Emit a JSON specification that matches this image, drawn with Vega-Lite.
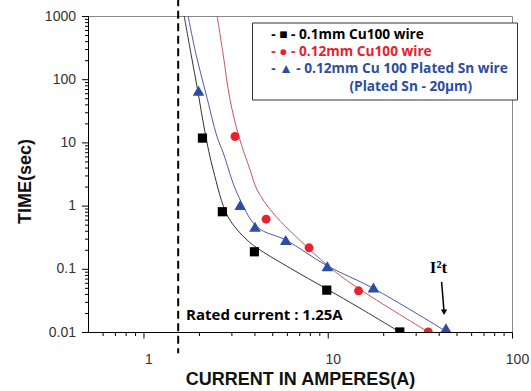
{
  "$schema": "https://vega.github.io/schema/vega-lite/v6.json",
  "width": 424,
  "height": 316,
  "autosize": {"type": "none"},
  "padding": {"left": 88, "top": 16, "right": 19, "bottom": 59},
  "background": "white",
  "config": {
    "view": {"stroke": "#888", "strokeWidth": 1},
    "axis": {
      "domainColor": "#000", "grid": false, "ticks": true, "tickColor": "#000", "tickWidth": 1, "tickOpacity": 1,
      "bandPosition": 0, "tickRound": false, "tickExtra": false,
      "labelFont": "Liberation Sans", "labelFontSize": 14, "labelColor": "#333",
      "titleFont": "Liberation Sans", "titleFontSize": 18, "titleFontWeight": "bold", "titleColor": "#111"
    }
  },
  "datasets": {
    "pts": [
      {"series": "0.1mm Cu100 wire", "I": 2.09, "t": 11.7},
      {"series": "0.1mm Cu100 wire", "I": 2.68, "t": 0.80},
      {"series": "0.1mm Cu100 wire", "I": 4.0, "t": 0.186},
      {"series": "0.1mm Cu100 wire", "I": 9.88, "t": 0.046},
      {"series": "0.1mm Cu100 wire", "I": 24.6, "t": 0.01},
      {"series": "0.12mm Cu100 wire", "I": 3.14, "t": 12.4},
      {"series": "0.12mm Cu100 wire", "I": 4.63, "t": 0.61},
      {"series": "0.12mm Cu100 wire", "I": 7.92, "t": 0.215},
      {"series": "0.12mm Cu100 wire", "I": 14.7, "t": 0.0448},
      {"series": "0.12mm Cu100 wire", "I": 35.1, "t": 0.01},
      {"series": "0.12mm Cu 100 Plated Sn wire", "I": 1.99, "t": 65.5},
      {"series": "0.12mm Cu 100 Plated Sn wire", "I": 3.35, "t": 1.02},
      {"series": "0.12mm Cu 100 Plated Sn wire", "I": 4.03, "t": 0.463},
      {"series": "0.12mm Cu 100 Plated Sn wire", "I": 5.92, "t": 0.285},
      {"series": "0.12mm Cu 100 Plated Sn wire", "I": 9.95, "t": 0.110},
      {"series": "0.12mm Cu 100 Plated Sn wire", "I": 17.7, "t": 0.0507},
      {"series": "0.12mm Cu 100 Plated Sn wire", "I": 43.8, "t": 0.0115}
    ],
    "curves": [
      {"series": "0.1mm Cu100 wire", "I": 1.663, "t": 1000},
      {"series": "0.1mm Cu100 wire", "I": 1.815, "t": 244},
      {"series": "0.1mm Cu100 wire", "I": 1.98, "t": 60.9},
      {"series": "0.1mm Cu100 wire", "I": 2.16, "t": 14.1},
      {"series": "0.1mm Cu100 wire", "I": 2.39, "t": 3.67},
      {"series": "0.1mm Cu100 wire", "I": 2.88, "t": 0.66},
      {"series": "0.1mm Cu100 wire", "I": 3.65, "t": 0.285},
      {"series": "0.1mm Cu100 wire", "I": 4.30, "t": 0.198},
      {"series": "0.1mm Cu100 wire", "I": 6.25, "t": 0.1026},
      {"series": "0.1mm Cu100 wire", "I": 9.91, "t": 0.0477},
      {"series": "0.1mm Cu100 wire", "I": 14.97, "t": 0.0238},
      {"series": "0.1mm Cu100 wire", "I": 24.6, "t": 0.01},
      {"series": "0.12mm Cu100 wire", "I": 2.51, "t": 1000},
      {"series": "0.12mm Cu100 wire", "I": 2.70, "t": 259},
      {"series": "0.12mm Cu100 wire", "I": 2.95, "t": 47.2},
      {"series": "0.12mm Cu100 wire", "I": 3.30, "t": 12.2},
      {"series": "0.12mm Cu100 wire", "I": 3.79, "t": 3.67},
      {"series": "0.12mm Cu100 wire", "I": 4.14, "t": 1.77},
      {"series": "0.12mm Cu100 wire", "I": 5.05, "t": 0.763},
      {"series": "0.12mm Cu100 wire", "I": 7.72, "t": 0.221},
      {"series": "0.12mm Cu100 wire", "I": 10.7, "t": 0.0954},
      {"series": "0.12mm Cu100 wire", "I": 14.6, "t": 0.0494},
      {"series": "0.12mm Cu100 wire", "I": 35.1, "t": 0.01},
      {"series": "0.12mm Cu 100 Plated Sn wire", "I": 1.747, "t": 1000},
      {"series": "0.12mm Cu 100 Plated Sn wire", "I": 1.93, "t": 244},
      {"series": "0.12mm Cu 100 Plated Sn wire", "I": 2.18, "t": 60.2},
      {"series": "0.12mm Cu 100 Plated Sn wire", "I": 2.51, "t": 12.2},
      {"series": "0.12mm Cu 100 Plated Sn wire", "I": 2.71, "t": 6.82},
      {"series": "0.12mm Cu 100 Plated Sn wire", "I": 3.22, "t": 1.58},
      {"series": "0.12mm Cu 100 Plated Sn wire", "I": 4.14, "t": 0.458},
      {"series": "0.12mm Cu 100 Plated Sn wire", "I": 5.92, "t": 0.285},
      {"series": "0.12mm Cu 100 Plated Sn wire", "I": 9.91, "t": 0.112},
      {"series": "0.12mm Cu 100 Plated Sn wire", "I": 17.6, "t": 0.0494},
      {"series": "0.12mm Cu 100 Plated Sn wire", "I": 44.4, "t": 0.01}
    ]
  },
  "layer": [
    {
      "data": {"name": "curves"},
      "mark": {"type": "line", "interpolate": "catmull-rom", "strokeWidth": 1, "clip": true},
      "encoding": {
        "x": {"field": "I", "type": "quantitative", "scale": {"type": "log", "domain": [0.5, 100], "nice": false},
          "axis": {"orient": "bottom",
            "values": [0.6, 0.7, 0.8, 0.9, 1, 2, 3, 4, 5, 6, 7, 8, 9, 10, 20, 30, 40, 50, 60, 70, 80, 90, 100],
            "format": "~g",
            "labelExpr": "indexof([1, 10, 100], datum.value) >= 0 ? datum.label : ''",
            "ticks": true, "tickColor": "#000", "tickWidth": 1, "tickOpacity": 1, "tickRound": false, "bandPosition": 0,
            "tickSize": {"condition": {"test": "indexof([1, 10, 100], datum.value) >= 0", "value": 6}, "value": 3.5},
            "labelPadding": 14, "labelOffset": 5, "labelFlush": false, "labelOverlap": false, "zindex": 2,
            "title": "CURRENT IN AMPERES(A)", "titlePadding": 4}},
        "y": {"field": "t", "type": "quantitative", "scale": {"type": "log", "domain": [0.01, 1000], "nice": false},
          "axis": {"orient": "left",
            "values": [0.01, 0.02, 0.03, 0.04, 0.05, 0.06, 0.07, 0.08, 0.09, 0.1, 0.2, 0.3, 0.4, 0.5, 0.6, 0.7, 0.8, 0.9, 1, 2, 3, 4, 5, 6, 7, 8, 9, 10, 20, 30, 40, 50, 60, 70, 80, 90, 100, 200, 300, 400, 500, 600, 700, 800, 900, 1000],
            "format": "~g",
            "labelExpr": "indexof([0.01, 0.1, 1, 10, 100, 1000], datum.value) >= 0 ? datum.label : ''",
            "ticks": true, "tickColor": "#000", "tickWidth": 1, "tickOpacity": 1, "tickRound": false, "bandPosition": 0,
            "tickSize": {"condition": {"test": "indexof([0.01, 0.1, 1, 10, 100, 1000], datum.value) >= 0", "value": 6.5}, "value": 3.5},
            "labelPadding": 6, "labelFlush": false, "labelOverlap": false, "zindex": 2,
            "title": "TIME(sec)", "titleX": -54, "titleY": 165}},
        "stroke": {"field": "series", "type": "nominal",
          "scale": {"domain": ["0.1mm Cu100 wire", "0.12mm Cu100 wire", "0.12mm Cu 100 Plated Sn wire"], "range": ["#333333", "#cc5555", "#4d58aa"]},
          "legend": null}
      }
    },
    {
      "data": {"name": "pts"},
      "mark": {"type": "point", "filled": true, "opacity": 1, "strokeWidth": 0, "clip": true},
      "encoding": {
        "x": {"field": "I", "type": "quantitative", "scale": {"type": "log", "domain": [0.5, 100], "nice": false}},
        "y": {"field": "t", "type": "quantitative", "scale": {"type": "log", "domain": [0.01, 1000], "nice": false}},
        "color": {"field": "series", "type": "nominal",
          "scale": {"domain": ["0.1mm Cu100 wire", "0.12mm Cu100 wire", "0.12mm Cu 100 Plated Sn wire", "(Plated Sn - 20μm)"], "range": ["#000000", "#e8212e", "#2c4da3", "#2c4da3"]},
          "legend": {
            "orient": "none", "legendX": 164, "legendY": 6.5, "title": null,
            "symbolSize": 0, "symbolOpacity": 0, "symbolStrokeWidth": 0, "labelOffset": 0,
            "labelFont": "Open Sans", "labelFontSize": 13.7, "labelFontWeight": "bold",
            "labelColor": {"expr": "scale('color', datum.value)"},
            "labelLimit": 400, "rowPadding": 2.3, "padding": 5.5,
            "strokeColor": "#333", "fillColor": "white",
            "labelExpr": "datum.value == '0.1mm Cu100 wire' ? '-\u00a0■\u00a0-\u00a0' + datum.value : datum.value == '0.12mm Cu100 wire' ? '-\u00a0●\u00a0-\u00a0' + datum.value : datum.value == '0.12mm Cu 100 Plated Sn wire' ? '-\u00a0▲\u00a0-\u00a0' + datum.value + '\u00a0\u200b' : '\u200b\u00a0\u00a0\u00a0\u00a0\u00a0\u00a0\u00a0\u00a0\u00a0\u00a0\u00a0\u00a0\u00a0\u00a0\u00a0\u00a0\u00a0\u00a0\u00a0\u00a0\u00a0\u00a0' + datum.value"
          }},
        "shape": {"field": "series", "type": "nominal",
          "scale": {"domain": ["0.1mm Cu100 wire", "0.12mm Cu100 wire", "0.12mm Cu 100 Plated Sn wire"], "range": ["square", "circle", "triangle-up"]},
          "legend": null},
        "size": {"field": "series", "type": "nominal",
          "scale": {"type": "ordinal", "domain": ["0.1mm Cu100 wire", "0.12mm Cu100 wire", "0.12mm Cu 100 Plated Sn wire"], "range": [85, 80, 135]},
          "legend": null}
      }
    },
    {
      "data": {"values": [{}]},
      "mark": {"type": "rule", "strokeDash": [8, 4.5], "strokeWidth": 2, "color": "#000"},
      "encoding": {
        "x": {"datum": 1.543, "type": "quantitative", "scale": {"type": "log", "domain": [0.5, 100], "nice": false}},
        "y": {"datum": 3000, "type": "quantitative", "scale": {"type": "log", "domain": [0.01, 1000], "nice": false}},
        "y2": {"datum": 0.0046}
      }
    },
    {
      "data": {"values": [{}]},
      "mark": {"type": "rule", "strokeWidth": 1.5, "color": "#000"},
      "encoding": {
        "x": {"datum": 41.5, "type": "quantitative", "scale": {"type": "log", "domain": [0.5, 100], "nice": false}},
        "y": {"datum": 0.0622, "type": "quantitative", "scale": {"type": "log", "domain": [0.01, 1000], "nice": false}},
        "x2": {"datum": 42.7},
        "y2": {"datum": 0.0222}
      }
    },
    {
      "data": {"values": [{}]},
      "mark": {"type": "point", "shape": "triangle-down", "filled": true, "opacity": 1, "color": "#000", "size": 40, "strokeWidth": 0},
      "encoding": {
        "x": {"datum": 42.8, "type": "quantitative", "scale": {"type": "log", "domain": [0.5, 100], "nice": false}},
        "y": {"datum": 0.0206, "type": "quantitative", "scale": {"type": "log", "domain": [0.01, 1000], "nice": false}}
      }
    },
    {
      "data": {"values": [{}]},
      "mark": {"type": "text", "align": "left", "baseline": "alphabetic", "font": "Open Sans", "fontWeight": "bold", "fontSize": 15, "color": "#000"},
      "encoding": {
        "x": {"datum": 1.704, "type": "quantitative", "scale": {"type": "log", "domain": [0.5, 100], "nice": false}},
        "y": {"datum": 0.01566, "type": "quantitative", "scale": {"type": "log", "domain": [0.01, 1000], "nice": false}},
        "text": {"value": "Rated current : 1.25A"}
      }
    },
    {
      "data": {"values": [{}]},
      "mark": {"type": "text", "align": "center", "baseline": "alphabetic", "font": "Liberation Serif", "fontWeight": "bold", "fontSize": 17, "color": "#000"},
      "encoding": {
        "x": {"datum": 39.9, "type": "quantitative", "scale": {"type": "log", "domain": [0.5, 100], "nice": false}},
        "y": {"datum": 0.0846, "type": "quantitative", "scale": {"type": "log", "domain": [0.01, 1000], "nice": false}},
        "text": {"value": "I²t"}
      }
    }
  ]
}
